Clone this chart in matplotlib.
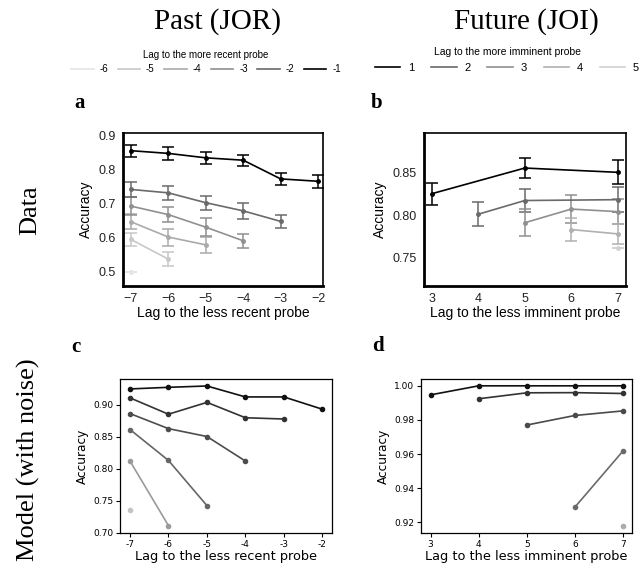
import matplotlib
matplotlib.use("Agg")
import matplotlib.pyplot as plt
from matplotlib.lines import Line2D

# ---- data: past (JOR), series keyed by lag to the more recent probe ----
past_lags = [-6, -5, -4, -3, -2, -1]
past_x = {
    -1: [-7, -6, -5, -4, -3, -2],
    -2: [-7, -6, -5, -4, -3],
    -3: [-7, -6, -5, -4],
    -4: [-7, -6, -5],
    -5: [-7, -6],
    -6: [-7],
}
past_acc = {
    -1: [0.856, 0.848, 0.835, 0.828, 0.773, 0.766],
    -2: [0.742, 0.732, 0.703, 0.679, 0.648],
    -3: [0.693, 0.668, 0.631, 0.591],
    -4: [0.647, 0.602, 0.579],
    -5: [0.595, 0.537],
    -6: [0.498],
}
past_err = {
    -1: [0.018, 0.018, 0.018, 0.016, 0.018, 0.019],
    -2: [0.021, 0.021, 0.020, 0.024, 0.019],
    -3: [0.026, 0.022, 0.026, 0.021],
    -4: [0.022, 0.025, 0.024],
    -5: [0.020, 0.020],
    -6: [0.0],
}
past_model = {
    -1: [0.925, 0.9275, 0.9296, 0.9125, 0.9125, 0.8933],
    -2: [0.911, 0.8855, 0.904, 0.880, 0.878],
    -3: [0.8865, 0.863, 0.8507, 0.8123],
    -4: [0.8616, 0.8133, 0.7427],
    -5: [0.8123, 0.7115],
    -6: [0.7354],
}

# ---- data: future (JOI), series keyed by lag to the more imminent probe ----
future_lags = [1, 2, 3, 4, 5]
future_data_x = {1: [3, 5, 7], 2: [4, 5, 7], 3: [5, 6, 7], 4: [6, 7], 5: [7]}
future_acc = {
    1: [0.825, 0.855, 0.850],
    2: [0.801, 0.817, 0.818],
    3: [0.791, 0.807, 0.804],
    4: [0.783, 0.778],
    5: [0.762],
}
future_err = {
    1: [0.013, 0.012, 0.014],
    2: [0.014, 0.013, 0.015],
    3: [0.016, 0.016, 0.015],
    4: [0.013, 0.012],
    5: [0.0],
}
future_model_x = {1: [3, 4, 5, 6, 7], 2: [4, 5, 6, 7], 3: [5, 6, 7], 4: [6, 7], 5: [7]}
future_model = {
    1: [0.9947, 1.000, 1.000, 1.000, 1.000],
    2: [0.9924, 0.9959, 0.996, 0.9955],
    3: [0.977, 0.9826, 0.9853],
    4: [0.9288, 0.9617],
    5: [0.9179],
}

# grey shades
past_data_col = {-1: "#000000", -2: "#6a6a6a", -3: "#909090", -4: "#aaaaaa",
                 -5: "#c8c8c8", -6: "#e4e4e4"}
future_data_col = {1: "#000000", 2: "#6a6a6a", 3: "#909090", 4: "#b0b0b0", 5: "#d0d0d0"}
past_model_col = {-1: "#111111", -2: "#333333", -3: "#4d4d4d", -4: "#666666",
                  -5: "#9a9a9a", -6: "#c4c4c4"}
future_model_col = {1: "#111111", 2: "#333333", 3: "#4a4a4a", 4: "#6a6a6a", 5: "#ababab"}

W, H = 644, 567
fig = plt.figure(figsize=(W / 100, H / 100), dpi=100)


def fx(px):
    return px / W


def fy(py):
    return 1 - py / H


def box(l, t, r, b):
    return [fx(l), fy(b), (r - l) / W, (b - t) / H]


SANS = "Liberation Sans"
SERIF = "Liberation Serif"


def style_data(ax):
    for s in ["left", "bottom"]:
        ax.spines[s].set_linewidth(2.0)
    for s in ["top", "right"]:
        ax.spines[s].set_linewidth(1.2)
    ax.tick_params(length=0, pad=5, labelsize=9, colors="#222222")
    for lab in ax.get_xticklabels() + ax.get_yticklabels():
        lab.set_family(SANS)


def style_model(ax):
    for s in ax.spines.values():
        s.set_linewidth(0.9)
    ax.tick_params(length=3, width=0.8, pad=2, labelsize=6.5)


# ---- panel a ----
ax_a = fig.add_axes(box(123, 133, 323, 286))
for lag in past_lags:
    ax_a.errorbar(past_x[lag], past_acc[lag], yerr=past_err[lag], color=past_data_col[lag],
                  marker="o", ms=2.5, lw=1.2, elinewidth=1.1, capsize=4, capthick=1.1)
ax_a.set_xlim(-7.21, -1.87)
ax_a.set_ylim(0.458, 0.908)
ax_a.set_xticks([-7, -6, -5, -4, -3, -2])
ax_a.set_xticklabels(["\u22127", "\u22126", "\u22125", "\u22124", "\u22123", "\u22122"])
ax_a.set_yticks([0.5, 0.6, 0.7, 0.8, 0.9])
ax_a.set_yticklabels(["0.5", "0.6", "0.7", "0.8", "0.9"])
ax_a.set_xlabel("Lag to the less recent probe", family=SANS, fontsize=10, labelpad=1)
ax_a.set_ylabel("Accuracy", family=SANS, fontsize=10, labelpad=4)
style_data(ax_a)

# ---- panel b ----
ax_b = fig.add_axes(box(424, 133, 626, 286))
for lag in future_lags:
    ax_b.errorbar(future_data_x[lag], future_acc[lag], yerr=future_err[lag],
                  color=future_data_col[lag], marker="o", ms=2.5, lw=1.2,
                  elinewidth=1.1, capsize=4, capthick=1.1)
ax_b.set_xlim(2.83, 7.18)
ax_b.set_ylim(0.717, 0.896)
ax_b.set_xticks([3, 4, 5, 6, 7])
ax_b.set_yticks([0.75, 0.80, 0.85])
ax_b.set_yticklabels(["0.75", "0.80", "0.85"])
ax_b.set_xlabel("Lag to the less imminent probe", family=SANS, fontsize=10, labelpad=1)
ax_b.set_ylabel("Accuracy", family=SANS, fontsize=10, labelpad=4)
style_data(ax_b)

# ---- panel c ----
ax_c = fig.add_axes(box(120, 379, 332, 533))
for lag in past_lags:
    ax_c.plot(past_x[lag], past_model[lag], color=past_model_col[lag],
              marker="o", ms=3, lw=1.2)
ax_c.set_xlim(-7.26, -1.75)
ax_c.set_ylim(0.70, 0.9405)
ax_c.set_xticks([-7, -6, -5, -4, -3, -2])
ax_c.set_xticklabels(["-7", "-6", "-5", "-4", "-3", "-2"])
ax_c.set_yticks([0.70, 0.75, 0.80, 0.85, 0.90])
ax_c.set_yticklabels(["0.70", "0.75", "0.80", "0.85", "0.90"])
ax_c.set_xlabel("Lag to the less recent probe", fontsize=9.3, labelpad=1)
ax_c.set_ylabel("Accuracy", fontsize=8.7, labelpad=3)
style_model(ax_c)

# ---- panel d ----
ax_d = fig.add_axes(box(421, 379, 632, 533))
for lag in future_lags:
    ax_d.plot(future_model_x[lag], future_model[lag], color=future_model_col[lag],
              marker="o", ms=3, lw=1.2)
ax_d.set_xlim(2.8, 7.19)
ax_d.set_ylim(0.9137, 1.004)
ax_d.set_xticks([3, 4, 5, 6, 7])
ax_d.set_yticks([0.92, 0.94, 0.96, 0.98, 1.00])
ax_d.set_yticklabels(["0.92", "0.94", "0.96", "0.98", "1.00"])
ax_d.set_xlabel("Lag to the less imminent probe", fontsize=9.3, labelpad=1)
ax_d.set_ylabel("Accuracy", fontsize=8.7, labelpad=3)
style_model(ax_d)

# ---- legends ----
past_handles = [Line2D([], [], color=past_data_col[l], lw=1.2) for l in past_lags]
leg1 = fig.legend(past_handles, [str(l) for l in past_lags], ncol=6, loc="center",
                  bbox_to_anchor=(fx(206), fy(62)), frameon=False,
                  title="Lag to the more recent probe",
                  prop={"family": SANS, "size": 7}, handlelength=2.3,
                  handletextpad=0.6, columnspacing=1.0)
leg1.get_title().set_family(SANS)
leg1.get_title().set_fontsize(7)

future_handles = [Line2D([], [], color=future_data_col[l], lw=1.2) for l in future_lags]
leg2 = fig.legend(future_handles, [str(l) for l in future_lags], ncol=5, loc="center",
                  bbox_to_anchor=(fx(507), fy(60)), frameon=False,
                  title="Lag to the more imminent probe",
                  prop={"family": SANS, "size": 8}, handlelength=2.3,
                  handletextpad=0.7, columnspacing=1.5)
leg2.get_title().set_family(SANS)
leg2.get_title().set_fontsize(7.5)

# ---- titles and labels ----
fig.text(fx(217), fy(22), "Past (JOR)", family=SERIF, fontsize=21, ha="center", va="center")
fig.text(fx(526), fy(22), "Future (JOI)", family=SERIF, fontsize=21, ha="center", va="center")
fig.text(fx(30), fy(210), "Data", family=SERIF, fontsize=19, rotation=90,
         ha="center", va="center")
fig.text(fx(28), fy(460), "Model (with noise)", family=SERIF, fontsize=19, rotation=90,
         ha="center", va="center")
for lab, x, y in [("a", 80, 103), ("b", 377, 103), ("c", 76, 347), ("d", 378, 346)]:
    fig.text(fx(x), fy(y), lab, family=SERIF, fontsize=15, fontweight="bold",
             ha="center", va="center")

fig.savefig("out.png", dpi=100)
